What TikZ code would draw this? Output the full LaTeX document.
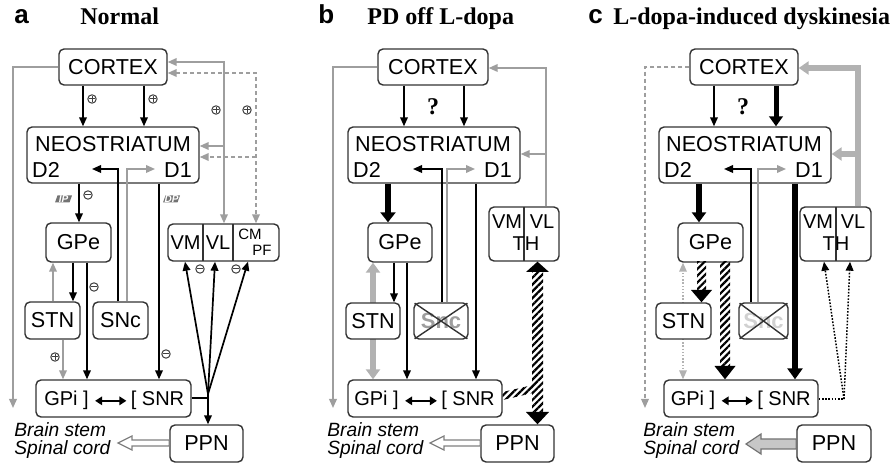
\documentclass[tikz,border=0pt]{standalone}
\usepackage{fontspec}
\setmainfont{Liberation Serif}
\setsansfont{Liberation Sans}
\usetikzlibrary{arrows.meta,calc,patterns.meta}
\definecolor{lg}{gray}{0.62}
\definecolor{lgt}{gray}{0.70}
\newcommand\mkbox[7][]{\node[box,minimum width={(#5-#3)*0.5pt},minimum height={(#6-#4)*0.5pt},#1] (#2) at ({(#3+#5)/2},{(#4+#6)/2}) {#7};}
\newcommand\sgnplus[2]{\draw[sg] (#1,#2) circle[radius=4.2]; \draw[sg] ({#1-2.6},#2) -- ({#1+2.6},#2) (#1,{#2-2.6}) -- (#1,{#2+2.6});}
\newcommand\sgnminus[2]{\draw[sg] (#1,#2) circle[radius=4.2]; \draw[sg] ({#1-2.6},#2) -- ({#1+2.6},#2);}
\newcommand\pathlbl[3]{\fill[black!55] ({#1-6},{#2-3.5}) -- ({#1+8.5},{#2-3.5}) -- ({#1+6},{#2+3.5}) -- ({#1-8.5},{#2+3.5}) -- cycle;
  \node[font=\sffamily\bfseries\itshape\fontsize{5}{5}\selectfont,text=white,inner sep=0pt] (lbl#3) at (#1,#2) {#3};}
\begin{document}
\begin{tikzpicture}[x=0.5pt,y=-0.5pt,
  box/.style={draw=black!80,line width=0.7pt,rounded corners=2.5pt,fill=white,inner sep=0pt,font=\sffamily\fontsize{10.8}{12}\selectfont},
  txt/.style={inner sep=0pt,font=\sffamily\fontsize{10.8}{12}\selectfont},
  gtxt/.style={inner sep=0pt,anchor=base,font=\sffamily\fontsize{10}{12}\selectfont},
  thtxt/.style={inner sep=0pt,font=\sffamily\fontsize{10}{12}\selectfont},
  cmtxt/.style={inner sep=0pt,font=\sffamily\fontsize{7.5}{8}\selectfont},
  bord/.style={draw=black!80,line width=0.7pt},
  sg/.style={draw=black!75,line width=0.5pt},
  arw/.style={-{Triangle[length=4.5pt,width=3.8pt]}},
  arwboth/.style={{Triangle[length=4.5pt,width=3.8pt]}-{Triangle[length=4.5pt,width=3.8pt]}},
  blk/.style={draw=black,line width=0.85pt,arw},
  blkl/.style={draw=black,line width=0.85pt},
  gry/.style={draw=lg,line width=0.85pt,arw},
  dsh/.style={dash pattern=on 2pt off 1.5pt},
  blkT/.style={draw=black,line width=2.8pt,-{Triangle[length=5pt,width=7.5pt]}},
  gryT/.style={draw=lgt,line width=2.6pt,-{Triangle[length=5pt,width=6.5pt]}},
  dbl/.style={draw=black,line width=1.3pt,{Triangle[length=3.5pt,width=4.2pt]}-{Triangle[length=3.5pt,width=4.2pt]}},
  hatchf/.style={pattern={Lines[angle=45,distance=2.4pt,line width=1.1pt]}},
  bs/.style={anchor=west,align=left,inner sep=0pt,font=\sffamily\itshape\fontsize{9.6}{9}\selectfont},
  ttl/.style={anchor=base west,inner sep=0pt,font=\bfseries\fontsize{12}{14}\selectfont},
  plet/.style={anchor=base west,inner sep=0pt,font=\sffamily\bfseries\fontsize{13}{14}\selectfont},
  qm/.style={anchor=base,inner sep=0pt,font=\bfseries\fontsize{12}{14}\selectfont}]
\useasboundingbox (0,0) rectangle (896,464);

%================ PANEL A =================
\node[plet] (la) at (14,24) {a};
\node[ttl] (ta) at (80,25) {Normal};
\mkbox{ctxa}{59}{49}{167}{85}{CORTEX}
\mkbox{neoa}{27}{127}{199}{183}{}
\node[txt] (neoat) at (113,144) {NEOSTRIATUM};
\node[txt] (d2a) at (46,170) {D2};
\node[txt] (d1a) at (178,170) {D1};
\mkbox{gpea}{46}{223}{111}{262}{GPe}
\mkbox{stna}{25}{302}{80}{339}{STN}
\mkbox{snca}{93}{302}{148}{339}{SNc}
\mkbox{gpia}{36}{380}{191}{417}{}
\node[gtxt] (gpita) at (66.5,406) {GPi ]};
\node[gtxt] (snrta) at (157.5,406) {[ SNR};
\mkbox{ppna}{170}{425}{243}{462}{PPN}
\mkbox{tha}{168}{224}{279}{261}{}
\draw[bord] (203,224) -- (203,261) (233,224) -- (233,261);
\node[thtxt] (vma) at (185.5,243) {VM};
\node[thtxt] (vla) at (218,243) {VL};
\node[cmtxt] (cma) at (250,234) {CM};
\node[cmtxt] (pfa) at (262,250) {PF};
\node[bs] (bsa) at (14,441) {Brain stem\\Spinal cord};

\draw[dbl,shorten <=3pt,shorten >=2pt] (gpita.east) -- (snrta.west);
\draw[blk] (ctxa.south -| 83,0) -- (neoa.north -| 83,0);
\draw[blk] (ctxa.south -| 144,0) -- (neoa.north -| 144,0);
\draw[gry] (ctxa.west) -| (13,408);
\draw[draw=lg,line width=0.85pt,arwboth] (ctxa.east |- 0,62) -| (tha.north -| 224,0);
\draw[gry] (224,146) -- (neoa.east |- 0,146);
\draw[draw=lg,line width=0.85pt,arwboth,dsh] (ctxa.east |- 0,73) -| (tha.north -| 256,0);
\draw[gry,dsh] (256,157) -- (neoa.east |- 0,157);
\draw[blk] (snca.north -| 118,0) |- (92,169);
\draw[gry] (snca.north -| 127,0) |- (155,169);
\draw[blk] (neoa.south -| 79,0) -- (gpea.north -| 79,0);
\draw[blk] (neoa.south -| 159,0) -- (gpia.north -| 159,0);
\draw[blk] (gpea.south -| 73,0) -- (stna.north -| 73,0);
\draw[gry] (stna.north -| 53,0) -- (gpea.south -| 53,0);
\draw[blk] (gpea.south -| 87,0) -- (gpia.north -| 87,0);
\draw[gry] (stna.south -| 63,0) -- (gpia.north -| 63,0);
\coordinate (ja) at (208,394);
\draw[blkl] (gpia.east |- 0,398) -- (208,398);
\draw[blk] (ja) -- (ppna.north -| 208,0);
\draw[blk] (ja) -- (tha.south -| 185,0);
\draw[blk] (ja) -- (tha.south -| 215,0);
\draw[blk] (ja) -- (tha.south -| 248,0);
\draw[draw=black!50,line width=0.6pt,fill=white] (ppna.west |- 0,440) -- (132,440) -- (132,436) -- (118,443) -- (132,450) -- (132,446) -- (ppna.west |- 0,446) -- cycle;
\sgnplus{92}{99}\sgnplus{153}{99}\sgnplus{216}{110}\sgnplus{247}{110}\sgnplus{55}{357}
\sgnminus{88}{195}\sgnminus{94}{287}\sgnminus{166}{354}\sgnminus{200}{269}\sgnminus{236}{269}
\pathlbl{63.5}{199}{IP}
\pathlbl{171.5}{199}{DP}

%================ PANEL B =================
\node[plet] (lb) at (318,24) {b};
\node[ttl] (tb) at (367,25) {PD off L-dopa};
\mkbox{ctxb}{378}{49}{488}{85}{CORTEX}
\mkbox{neob}{348}{127}{520}{183}{}
\node[txt] (neobt) at (433,144) {NEOSTRIATUM};
\node[txt] (d2b) at (367,170) {D2};
\node[txt] (d1b) at (498,170) {D1};
\node[qm] (qb) at (433,115) {?};
\mkbox{gpeb}{368}{223}{432}{262}{GPe}
\mkbox{gpib}{348}{380}{502}{417}{}
\draw[draw=lgt,line width=2.6pt,{Triangle[length=5pt,width=7pt]}-{Triangle[length=5pt,width=7pt]}] (gpeb.south -| 373,0) -- (gpib.north -| 373,0);
\mkbox{stnb}{346}{303}{400}{339}{STN}
\mkbox[text=black!38,font=\sffamily\bfseries\fontsize{11}{12}\selectfont]{sncb}{414}{303}{468}{339}{Snc}
\draw[bord,shorten <=0.8pt,shorten >=0.8pt] (sncb.north west) -- (sncb.south east);
\draw[bord,shorten <=0.8pt,shorten >=0.8pt] (sncb.south west) -- (sncb.north east);
\node[gtxt] (gpitb) at (376.5,406) {GPi ]};
\node[gtxt] (snrtb) at (468,406) {[ SNR};
\mkbox{ppnb}{481}{425}{554}{462}{PPN}
\mkbox{thb}{489}{207}{559}{261}{}
\draw[bord] (524,207) -- (524,261);
\node[thtxt] (vmb) at (507,222) {VM};
\node[thtxt] (vlb) at (542,222) {VL};
\node[thtxt] (thtb) at (526,244) {TH};
\node[bs] (bsb) at (327,441) {Brain stem\\Spinal cord};

\draw[dbl,shorten <=3pt,shorten >=2pt] (gpitb.east) -- (snrtb.west);
\draw[blk] (ctxb.south -| 404,0) -- (neob.north -| 404,0);
\draw[blk] (ctxb.south -| 464,0) -- (neob.north -| 464,0);
\draw[gry] (ctxb.west) -| (333,408);
\draw[gry] (thb.north -| 546,0) |- (ctxb.east |- 0,68);
\draw[gry] (546,154) -- (neob.east |- 0,154);
\draw[blk] (sncb.north -| 442,0) |- (413,169);
\draw[gry] (sncb.north -| 447,0) |- (475,169);
\draw[blkT] (neob.south -| 388,0) -- (gpeb.north -| 388,0);
\draw[blk] (neob.south -| 476,0) -- (gpib.north -| 476,0);
\draw[blk] (gpeb.south -| 394,0) -- (stnb.north -| 394,0);
\draw[blk] (gpeb.south -| 407,0) -- (gpib.north -| 407,0);
% hatched
\fill[hatchf] (532,271) rectangle (543,413);
\fill[hatchf] (gpib.east |- 0,392) -- (533,385) -- (533,393) -- (gpib.east |- 0,400) -- cycle;
\fill[black] (526,272) -- (549,272) -- (thb.south -| 537.5,0) -- cycle;
\fill[black] (526,412) -- (549,412) -- (ppnb.north -| 537.5,0) -- cycle;
\draw[draw=black!50,line width=0.6pt,fill=white] (ppnb.west |- 0,440) -- (444,440) -- (444,436) -- (430,443) -- (444,450) -- (444,446) -- (ppnb.west |- 0,446) -- cycle;

%================ PANEL C =================
\node[plet] (lc) at (588,24) {c};
\node[ttl] (tc) at (613,25) {L-dopa-induced dyskinesia};
\mkbox{ctxc}{690}{49}{798}{85}{CORTEX}
\mkbox{neoc}{659}{127}{831}{183}{}
\node[txt] (neoct) at (744,144) {NEOSTRIATUM};
\node[txt] (d2c) at (678,170) {D2};
\node[txt] (d1c) at (809,170) {D1};
\node[qm] (qc) at (743,115) {?};
\mkbox{gpec}{678}{223}{743}{262}{GPe}
\mkbox{gpic}{664}{380}{818}{417}{}
\draw[draw=lgt,line width=0.7pt,dash pattern=on 0.7pt off 0.9pt,arw] (683,303) -- (gpec.south -| 683,0);
\draw[draw=lgt,line width=0.7pt,dash pattern=on 0.7pt off 0.9pt,arw] (683,339) -- (gpic.north -| 683,0);
\mkbox{stnc}{656}{303}{711}{339}{STN}
\mkbox[text=black!18,font=\sffamily\bfseries\fontsize{11}{12}\selectfont]{sncc}{739}{303}{788}{339}{Snc}
\draw[bord,shorten <=0.8pt,shorten >=0.8pt] (sncc.north west) -- (sncc.south east);
\draw[bord,shorten <=0.8pt,shorten >=0.8pt] (sncc.south west) -- (sncc.north east);
\node[gtxt] (gpitc) at (693,406) {GPi ]};
\node[gtxt] (snrtc) at (784,406) {[ SNR};
\mkbox{ppnc}{797}{425}{871}{462}{PPN}
\mkbox{thc}{800}{207}{871}{261}{}
\draw[bord] (836,207) -- (836,261);
\node[thtxt] (vmc) at (818,222) {VM};
\node[thtxt] (vlc) at (853,222) {VL};
\node[thtxt] (thtc) at (836,244) {TH};
\node[bs] (bsc) at (643,441) {Brain stem\\Spinal cord};

\draw[dbl,shorten <=3pt,shorten >=2pt] (gpitc.east) -- (snrtc.west);
\draw[blk] (ctxc.south -| 714,0) -- (neoc.north -| 714,0);
\draw[draw=black,line width=2.5pt,-{Triangle[length=5pt,width=6.8pt]}] (ctxc.south -| 776,0) -- (neoc.north -| 776,0);
\draw[gry,dsh,line width=0.75pt] (ctxc.west) -| (645,408);
\draw[gryT] (thc.north -| 858,0) |- (ctxc.east |- 0,68);
\draw[gryT] (858,154) -- (neoc.east |- 0,154);
\draw[blk] (sncc.north -| 751,0) |- (724,169);
\draw[gry] (sncc.north -| 758,0) |- (786,169);
\draw[draw=black,line width=3pt,-{Triangle[length=5pt,width=7pt]}] (neoc.south -| 699,0) -- (gpec.north -| 699,0);
\draw[draw=black,line width=3pt,-{Triangle[length=5.5pt,width=7.5pt]}] (neoc.south -| 795,0) -- (gpic.north -| 795,0);
% hatched
\fill[hatchf] (697,262) rectangle (706,291);
\fill[black] (691,290) -- (712,290) -- (stnc.north -| 701.5,0) -- cycle;
\fill[hatchf] (720,262) rectangle (730,367);
\fill[black] (714.5,366) -- (735.5,366) -- (gpic.north -| 725,0) -- cycle;
% dotted
\coordinate (jc) at (844,399);
\draw[draw=black,line width=0.75pt,dash pattern=on 0.8pt off 0.8pt] (gpic.east |- 0,399) -- (jc);
\draw[draw=black,line width=0.75pt,dash pattern=on 0.8pt off 0.8pt,arw] (jc) -- (thc.south -| 824,0);
\draw[draw=black,line width=0.75pt,dash pattern=on 0.8pt off 0.8pt,arw] (jc) -- (thc.south -| 850,0);
\draw[draw=black!55,line width=0.6pt,fill=black!22] (ppnc.west |- 0,439) -- (761,439) -- (761,434) -- (746,444) -- (761,454) -- (761,449) -- (ppnc.west |- 0,449) -- cycle;
\end{tikzpicture}
\end{document}
